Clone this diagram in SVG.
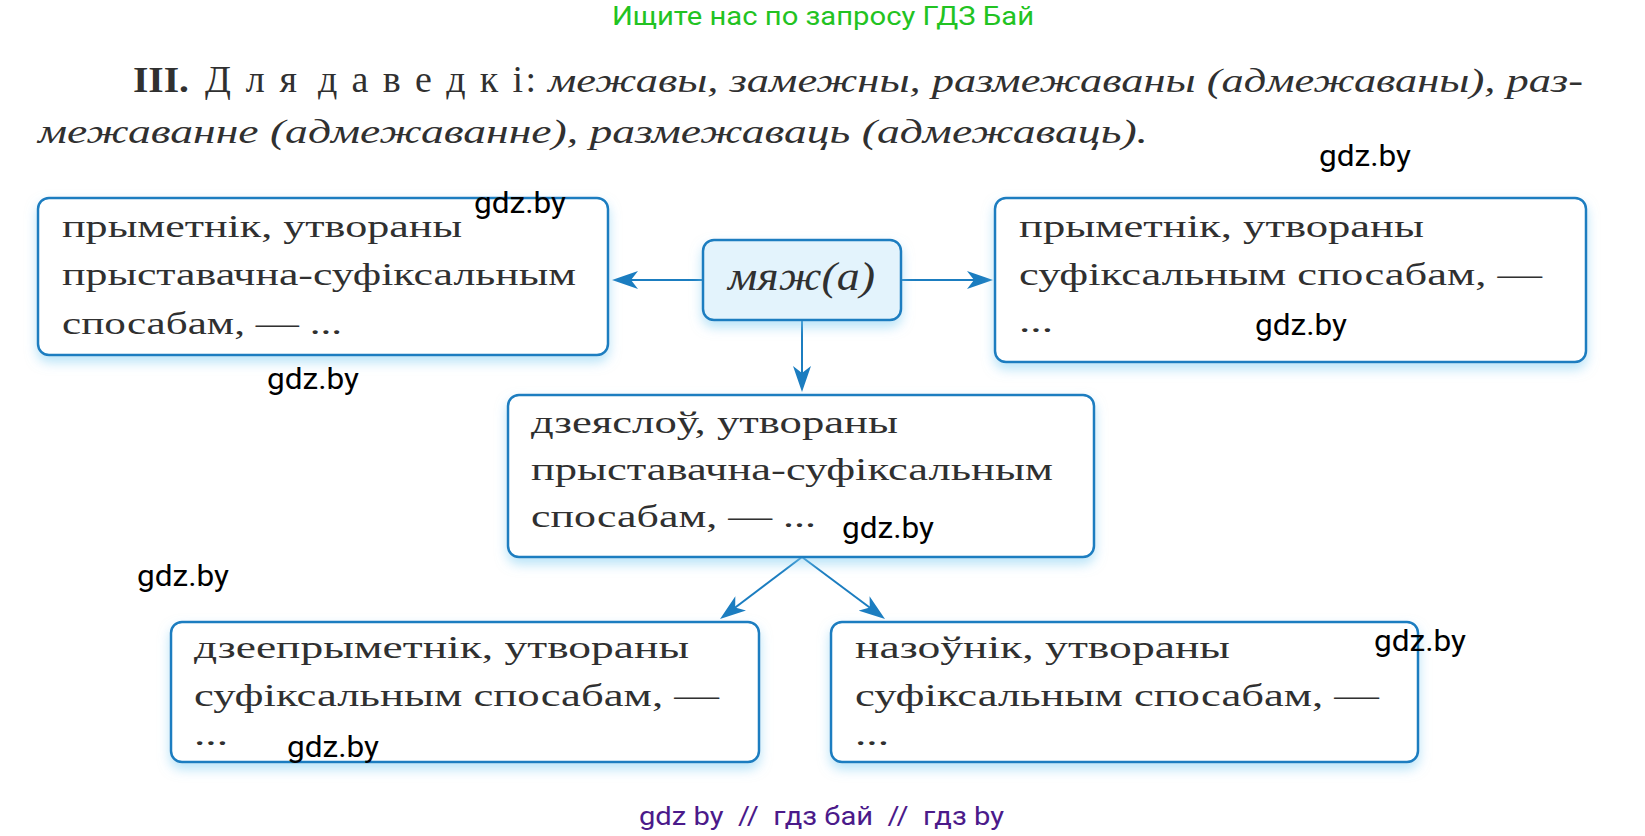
<svg xmlns="http://www.w3.org/2000/svg" width="1645" height="836" viewBox="0 0 1645 836">
<defs>
<style>
.box{fill:#ffffff;stroke:#1b7dc0;stroke-width:2.5;filter:url(#glow)}
.box-c{fill:#e3f3fc;stroke:#1b7dc0;stroke-width:2.5;filter:url(#glow)}
.t{font-family:"Liberation Serif","DejaVu Serif",serif;font-size:32px;fill:#303030}
.ti{font-family:"Liberation Serif","DejaVu Serif",serif;font-style:italic;fill:#303030}
.wm{font-family:Roboto,"Liberation Sans",sans-serif;font-size:29px;fill:#000}
.conn{stroke:#1b7dc0;stroke-width:2;fill:none;marker-end:url(#arr)}
</style>
<filter id="glow" x="-10%" y="-20%" width="120%" height="150%">
<feDropShadow dx="0" dy="6" stdDeviation="6" flood-color="#7fcdf2" flood-opacity="0.55"/>
</filter>
<marker id="arr" viewBox="0 0 26 18" refX="16" refY="9" markerWidth="26" markerHeight="18" markerUnits="userSpaceOnUse" orient="auto">
<path d="M0,0 L26,9 L0,18 L7,9 Z" fill="#1b7dc0"/>
</marker>
</defs>
<rect width="1645" height="836" fill="#ffffff"/>

<g id="header">
<text x="612" y="25" font-family="Roboto,'Liberation Sans',sans-serif" font-size="26" fill="#22c322" textLength="422" lengthAdjust="spacingAndGlyphs">Ищите нас по запросу ГДЗ Бай</text>
</g>

<g id="title">
<text x="133" y="92" font-family="'Liberation Serif',serif" font-size="36" font-weight="bold" fill="#303030" textLength="56" lengthAdjust="spacingAndGlyphs">III.</text>
<text x="205" y="92" class="t" style="font-size:38px" textLength="92" lengthAdjust="spacing">Д л я</text>
<text x="318" y="92" class="t" style="font-size:38px" textLength="218" lengthAdjust="spacing">д а в е д к і:</text>
<text x="548" y="92" class="ti" font-size="34" textLength="1035" lengthAdjust="spacingAndGlyphs">межавы, замежны, размежаваны (адмежаваны), раз-</text>
<text x="38" y="143" class="ti" font-size="34" textLength="1110" lengthAdjust="spacingAndGlyphs">межаванне (адмежаванне), размежаваць (адмежаваць).</text>
</g>

<g id="connectors">
<line class="conn" x1="703" y1="280" x2="622" y2="280"/>
<line class="conn" x1="901" y1="280" x2="983" y2="280"/>
<line class="conn" x1="802" y1="320" x2="802" y2="382"/>
<line class="conn" x1="802" y1="557" x2="728" y2="613"/>
<line class="conn" x1="802" y1="557" x2="877" y2="613"/>
</g>

<g id="node-root">
<rect class="box-c" x="703" y="240" width="198" height="80" rx="11"/>
<text x="728" y="290" class="ti" font-size="40" textLength="147" lengthAdjust="spacingAndGlyphs">мяж(а)</text>
</g>

<g id="node-adj-prefix">
<rect class="box" x="38" y="198" width="570" height="157" rx="11"/>
<text x="62" y="237" class="t" textLength="400" lengthAdjust="spacingAndGlyphs">прыметнік, утвораны</text>
<text x="62" y="285" class="t" textLength="514" lengthAdjust="spacingAndGlyphs">прыставачна-суфіксальным</text>
<text x="62" y="334" class="t" textLength="280" lengthAdjust="spacingAndGlyphs">спосабам, — ...</text>
</g>

<g id="node-adj-suffix">
<rect class="box" x="995" y="198" width="591" height="164" rx="11"/>
<text x="1019" y="237" class="t" textLength="405" lengthAdjust="spacingAndGlyphs">прыметнік, утвораны</text>
<text x="1019" y="285" class="t" textLength="523" lengthAdjust="spacingAndGlyphs">суфіксальным спосабам, —</text>
<text x="1019" y="332" class="t" textLength="34" lengthAdjust="spacingAndGlyphs">...</text>
</g>

<g id="node-verb">
<rect class="box" x="508" y="395" width="586" height="162" rx="11"/>
<text x="531" y="433" class="t" textLength="367" lengthAdjust="spacingAndGlyphs">дзеяслоў, утвораны</text>
<text x="531" y="480" class="t" textLength="522" lengthAdjust="spacingAndGlyphs">прыставачна-суфіксальным</text>
<text x="531" y="527" class="t" textLength="285" lengthAdjust="spacingAndGlyphs">спосабам, — ...</text>
</g>

<g id="node-participle">
<rect class="box" x="171" y="622" width="588" height="140" rx="11"/>
<text x="194" y="658" class="t" textLength="495" lengthAdjust="spacingAndGlyphs">дзеепрыметнік, утвораны</text>
<text x="194" y="706" class="t" textLength="525" lengthAdjust="spacingAndGlyphs">суфіксальным спосабам, —</text>
<text x="194" y="745" class="t" textLength="34" lengthAdjust="spacingAndGlyphs">...</text>
</g>

<g id="node-noun">
<rect class="box" x="831" y="622" width="587" height="140" rx="11"/>
<text x="855" y="658" class="t" textLength="375" lengthAdjust="spacingAndGlyphs">назоўнік, утвораны</text>
<text x="855" y="706" class="t" textLength="524" lengthAdjust="spacingAndGlyphs">суфіксальным спосабам, —</text>
<text x="855" y="745" class="t" textLength="34" lengthAdjust="spacingAndGlyphs">...</text>
</g>

<g id="watermarks">
<text x="1319" y="166" class="wm" textLength="92" lengthAdjust="spacingAndGlyphs">gdz.by</text>
<text x="474" y="213" class="wm" textLength="92" lengthAdjust="spacingAndGlyphs">gdz.by</text>
<text x="267" y="389" class="wm" textLength="92" lengthAdjust="spacingAndGlyphs">gdz.by</text>
<text x="1255" y="335" class="wm" textLength="92" lengthAdjust="spacingAndGlyphs">gdz.by</text>
<text x="842" y="538" class="wm" textLength="92" lengthAdjust="spacingAndGlyphs">gdz.by</text>
<text x="137" y="586" class="wm" textLength="92" lengthAdjust="spacingAndGlyphs">gdz.by</text>
<text x="287" y="757" class="wm" textLength="92" lengthAdjust="spacingAndGlyphs">gdz.by</text>
<text x="1374" y="651" class="wm" textLength="92" lengthAdjust="spacingAndGlyphs">gdz.by</text>
</g>

<g id="footer">
<text x="639" y="825" font-family="Roboto,'Liberation Sans',sans-serif" font-size="25" fill="#4b1a8a" textLength="365" lengthAdjust="spacingAndGlyphs" xml:space="preserve">gdz by  //  гдз бай  //  гдз by</text>
</g>
</svg>
